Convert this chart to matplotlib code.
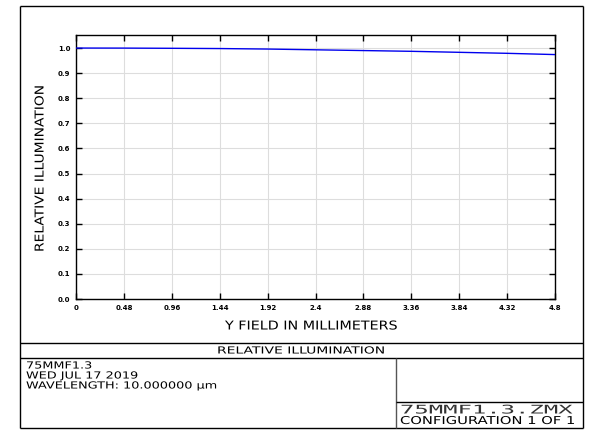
import numpy as np
import matplotlib
matplotlib.use("Agg")
import matplotlib.pyplot as plt
from matplotlib import patheffects
from matplotlib.transforms import Affine2D

output_fn = 'out.png'

# Relative illumination vs. Y field
field_mm = [0.0, 0.48, 0.96, 1.44, 1.92, 2.4, 2.88, 3.36, 3.84, 4.32, 4.8]
rel_illum = [1.000, 0.9998, 0.999, 0.998, 0.996, 0.993, 0.990, 0.987, 0.983, 0.979, 0.974]

x_ticks = [0, 0.48, 0.96, 1.44, 1.92, 2.4, 2.88, 3.36, 3.84, 4.32, 4.8]
x_ticklabels = ['0', '0.48', '0.96', '1.44', '1.92', '2.4', '2.88', '3.36', '3.84', '4.32', '4.8']
y_ticks = [0.0, 0.1, 0.2, 0.3, 0.4, 0.5, 0.6, 0.7, 0.8, 0.9, 1.0]
y_ticklabels = ['%.1f' % v for v in y_ticks]

info_lines = ['75MMF1.3', 'WED JUL 17 2019', 'WAVELENGTH: 10.000000 \u03bcm']


class Stretch(patheffects.AbstractPathEffect):
    """Widen glyphs along the text direction (plotter-style lettering)."""
    def __init__(self, sx):
        super().__init__()
        self.sx = sx

    def draw_path(self, renderer, gc, tpath, affine, rgbFace=None):
        renderer.draw_path(gc, tpath, Affine2D().scale(self.sx, 1.0) + affine, rgbFace)


W, H = 611, 442
fig = plt.figure(figsize=(W / 100, H / 100), dpi=100)

# Page overlay in pixel coordinates for the frame and title block
page = fig.add_axes([0, 0, 1, 1])
page.set_xlim(0, W)
page.set_ylim(H, 0)
page.axis('off')

def seg(x0, y0, x1, y1, c='black', lw=1.0):
    page.plot([x0, x1], [y0, y1], color=c, lw=lw, solid_capstyle='butt')

def label(x, y, s, size, sx, **kw):
    t = page.text(x, y, s, ha='left', va='center', fontsize=size, **kw)
    t.set_path_effects([Stretch(sx)])
    return t

L, R, T, B = 20, 583, 6, 428
seg(L, T, R, T)
seg(L, B, R, B)
seg(L, T, L, B)
seg(R, T, R, B)
seg(L, 343, R, 343)
seg(L, 358, R, 358)
seg(396, 358, 396, B, c='#555555')
seg(396, 402, R, 402)

label(217, 350.5, 'RELATIVE ILLUMINATION', 7, 1.43)
for i, line in enumerate(info_lines):
    label(26, 365.5 + i * 10, line, 7, 1.32)
label(400, 410, '75MMF1.3.ZMX', 8.6, 2.0, family='DejaVu Sans Mono', color='#333333')
label(400, 421, 'CONFIGURATION 1 OF 1', 7.8, 1.36)

# Axis titles
label(225, 326, 'Y FIELD IN MILLIMETERS', 8.8, 1.17)
ylab = page.text(40, 252, 'RELATIVE ILLUMINATION', ha='left', va='center',
                 fontsize=8.8, rotation=90, rotation_mode='anchor')
ylab.set_path_effects([Stretch(1.13)])

# Plot area
ax = fig.add_axes([76 / W, 1 - 299 / H, (555 - 76) / W, (299 - 35) / H])
ax.plot(field_mm, rel_illum, color='#0000ee', lw=1.0, zorder=3)

ax.set_xlim(0, 4.8)
ax.set_ylim(0, 1.052)
ax.set_xticks(x_ticks)
ax.set_xticklabels(x_ticklabels, fontsize=5, fontweight='bold')
ax.set_yticks(y_ticks)
ax.set_yticklabels(y_ticklabels, fontsize=5, fontweight='bold')
ax.tick_params(direction='in', length=4, width=1, top=True, right=True, pad=4)
ax.grid(True, color='#dddddd', lw=0.8)
ax.set_axisbelow(True)
for s in ax.spines.values():
    s.set_linewidth(1.0)

fig.savefig(output_fn, dpi=100)
plt.close(fig)
